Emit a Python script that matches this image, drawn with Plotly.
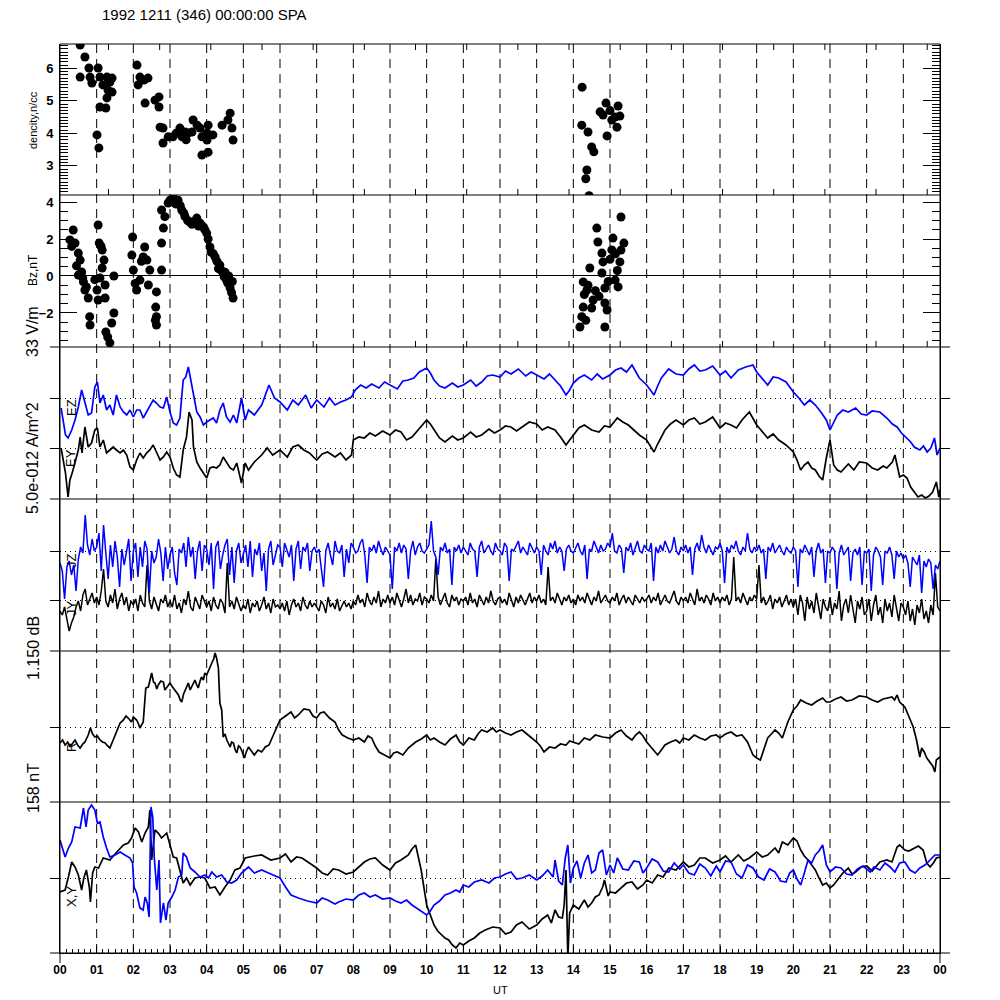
import numpy as np
import plotly.graph_objects as go

# ======================= DATA =======================
TITLE = "1992 1211 (346) 00:00:00 SPA"
hour_labels = ["00", "01", "02", "03", "04", "05", "06", "07", "08", "09", "10", "11",
               "12", "13", "14", "15", "16", "17", "18", "19", "20", "21", "22", "23", "00"]

# Panel 1: density (UT hour, n/cc)
density_pts = [
    (0.55, 6.72), (0.68, 6.35), (0.79, 6.01), (1.04, 6.01), (0.55, 5.73), (0.82, 5.73), (0.87, 5.55),
    (1.09, 5.73), (1.28, 5.73), (1.42, 5.70), (1.17, 5.49), (1.31, 5.33), (1.42, 5.27), (1.28, 5.09),
    (1.09, 4.81), (1.25, 4.78), (1.01, 3.95), (1.06, 3.55), (1.36, 5.58),
    (2.10, 6.10), (2.18, 5.73), (2.40, 5.70), (2.13, 5.49), (2.32, 4.93), (2.59, 5.02), (2.70, 5.12),
    (2.70, 4.81), (2.29, 5.64),
    (2.73, 4.19), (2.81, 4.16), (2.81, 3.70), (2.95, 3.89), (3.08, 3.89), (3.27, 4.16), (3.33, 3.89),
    (3.41, 4.04), (3.49, 4.01), (3.63, 4.41), (3.60, 4.04), (3.74, 4.25), (3.82, 4.16), (3.87, 3.89),
    (4.01, 4.01), (4.01, 3.79), (4.04, 4.25), (3.87, 3.33), (4.04, 3.42), (4.17, 3.95), (4.42, 4.25),
    (4.58, 4.41), (4.64, 4.62), (4.69, 4.16), (4.72, 3.79), (3.17, 4.00), (3.44, 3.80),
    (14.24, 5.42), (14.89, 4.93), (15.22, 4.84), (14.81, 4.56), (15.14, 4.50), (15.27, 4.53),
    (15.05, 4.41), (15.19, 4.19), (14.23, 4.25), (14.40, 4.04), (14.92, 3.92), (14.50, 3.58),
    (14.56, 3.43), (14.37, 2.87), (14.34, 2.60), (14.43, 2.08), (14.73, 4.66), (15.00, 4.70),
]

# Panel 2: Bz (UT hour, nT)
bz_pts = [
    (0.36, 2.49), (0.27, 1.95), (0.41, 1.78), (0.50, 1.24), (0.55, 0.86), (0.59, 0.22), (0.50, 0.05),
    (0.64, -0.32), (0.68, -0.76), (0.72, -0.59), (0.77, -1.19), (0.81, -2.20), (0.82, -2.65),
    (0.45, 0.55), (0.62, -0.10), (0.32, 1.60),
    (1.04, 2.76), (1.07, 1.78), (1.15, 1.40), (1.20, 0.86), (1.15, 0.43), (1.09, -0.11), (1.01, -0.76),
    (1.04, -1.30), (1.23, -1.19), (1.23, -0.49), (1.25, -3.03), (1.36, -3.62), (1.41, -2.54),
    (1.47, -2.00), (1.47, 0.00), (1.30, -3.30), (1.12, 1.60), (0.95, -0.20),
    (1.98, 2.11), (1.96, 1.13), (2.00, 0.32), (2.09, -0.76), (2.18, -0.22), (2.27, 1.03), (2.31, 1.57),
    (2.37, 0.86), (2.45, 0.32), (2.41, -0.49), (2.63, -0.86), (2.61, -1.68), (2.63, -2.20),
    (2.63, -2.65), (2.77, 1.78), (2.77, 0.32), (2.82, 2.59), (2.05, -0.40), (2.22, 0.80), (2.60, -2.40),
    (2.77, 3.57), (2.86, 3.21), (2.95, 3.95), (3.10, 4.20), (3.22, 4.10), (3.32, 3.57), (3.41, 3.21),
    (3.54, 2.92), (3.73, 3.13), (3.82, 2.86), (3.91, 2.65), (4.00, 2.32), (4.09, 1.57), (4.23, 1.03),
    (4.36, 0.59), (4.45, 0.16), (4.54, -0.22), (4.64, -0.65), (4.72, -1.19),
    (3.00, 4.10), (3.15, 3.90), (3.28, 3.80), (3.38, 3.40), (3.48, 3.00), (3.60, 2.80), (3.66, 2.95),
    (3.78, 2.70), (3.86, 2.75), (3.95, 2.50), (4.04, 2.00), (4.12, 1.30), (4.18, 1.20), (4.28, 0.80),
    (4.32, 0.40), (4.40, 0.30), (4.48, -0.05), (4.50, 0.20), (4.58, -0.40), (4.60, 0.00),
    (4.68, -0.90), (4.70, -0.30),
    (15.30, 3.19), (14.64, 2.59), (14.67, 1.84), (15.08, 2.05), (15.38, 1.78), (14.78, 1.24),
    (15.05, 1.41), (15.27, 0.76), (14.81, 0.76), (14.45, 0.43), (14.78, 0.16), (15.14, -0.22),
    (15.22, -0.59), (14.27, -0.32), (14.37, -0.76), (14.54, -1.30), (14.86, -0.65), (14.86, -1.46),
    (14.27, -1.68), (14.23, -2.20), (14.18, -2.76), (14.92, -1.84), (14.86, -2.76), (14.50, -1.73),
    (14.30, -1.00), (14.40, -0.50), (14.60, -0.80), (14.70, -1.10), (15.00, 0.90), (15.20, 0.30),
    (15.15, 1.20), (14.95, -0.30), (14.34, -2.40), (15.30, 1.40),
]

# Panel 3 (33 V/m scale): upper (blue) and lower (black) traces, height in panel units (0..152)
e_upper = [
    (0.03, 91), (0.08, 79), (0.15, 64), (0.22, 61), (0.32, 69), (0.41, 79), (0.50, 92), (0.59, 109),
    (0.68, 97), (0.77, 84), (0.86, 86), (0.95, 112), (1.02, 117), (1.09, 96), (1.18, 104), (1.27, 89),
    (1.36, 94), (1.45, 84), (1.54, 104), (1.64, 92), (1.73, 87), (1.82, 84), (1.91, 89), (2.00, 82),
    (2.09, 89), (2.18, 89), (2.27, 81), (2.36, 87), (2.45, 92), (2.54, 99), (2.63, 96), (2.73, 92),
    (2.82, 91), (2.91, 102), (3.00, 87), (3.09, 76), (3.18, 74), (3.27, 81), (3.36, 119), (3.43, 122),
    (3.50, 132), (3.55, 122), (3.64, 102), (3.73, 87), (3.82, 82), (3.91, 74), (4.00, 77), (4.09, 79),
    (4.18, 81), (4.27, 76), (4.36, 89), (4.45, 96), (4.54, 82), (4.64, 77), (4.73, 84), (4.82, 76),
    (4.95, 101), (5.05, 79), (5.14, 89), (5.30, 84), (5.50, 94), (5.70, 114), (5.85, 101), (6.00, 97),
    (6.20, 89), (6.35, 99), (6.50, 94), (6.70, 104), (6.85, 91), (7.00, 99), (7.20, 92), (7.35, 101),
    (7.50, 94), (7.65, 97), (7.80, 99), (7.95, 102), (8.05, 109), (8.20, 114), (8.35, 111), (8.50, 115),
    (8.70, 111), (8.85, 117), (9.00, 114), (9.20, 110), (9.35, 118), (9.50, 119), (9.65, 121),
    (9.80, 127), (10.00, 131), (10.10, 126), (10.20, 119), (10.35, 113), (10.50, 111), (10.70, 116),
    (10.85, 112), (11.00, 114), (11.20, 119), (11.35, 113), (11.50, 117), (11.65, 123), (11.80, 124),
    (12.00, 122), (12.15, 128), (12.30, 125), (12.50, 130), (12.70, 123), (12.85, 127), (13.00, 124),
    (13.20, 120), (13.35, 125), (13.50, 119), (13.65, 113), (13.80, 104), (13.90, 109), (14.00, 116),
    (14.15, 121), (14.30, 124), (14.50, 119), (14.65, 125), (14.80, 120), (15.00, 124), (15.15, 129),
    (15.30, 131), (15.45, 127), (15.60, 134), (15.70, 127), (15.80, 121), (16.00, 114), (16.10, 109),
    (16.20, 104), (16.30, 113), (16.40, 121), (16.60, 130), (16.80, 125), (17.00, 124), (17.15, 130),
    (17.30, 134), (17.45, 128), (17.60, 129), (17.80, 133), (18.00, 124), (18.15, 128), (18.30, 121),
    (18.50, 129), (18.70, 132), (18.90, 134), (19.00, 127), (19.15, 121), (19.30, 114), (19.45, 122),
    (19.60, 121), (19.80, 117), (20.00, 107), (20.15, 101), (20.30, 94), (20.45, 99), (20.60, 94),
    (20.75, 87), (20.90, 79), (21.00, 69), (21.10, 77), (21.20, 84), (21.35, 89), (21.50, 87),
    (21.70, 91), (21.85, 85), (22.00, 84), (22.15, 88), (22.36, 87), (22.55, 81), (22.70, 75),
    (22.83, 72), (22.95, 66), (23.10, 61), (23.20, 57), (23.30, 52), (23.45, 49), (23.55, 53),
    (23.65, 47), (23.75, 51), (23.85, 61), (23.92, 44), (24.00, 51),
]
e_lower = [
    (0.03, 51), (0.08, 42), (0.15, 26), (0.22, 2), (0.27, 19), (0.34, 27), (0.41, 36), (0.50, 49),
    (0.55, 62), (0.60, 46), (0.68, 72), (0.77, 52), (0.86, 56), (0.95, 69), (1.02, 71), (1.09, 52),
    (1.18, 59), (1.27, 46), (1.36, 49), (1.45, 52), (1.54, 49), (1.64, 46), (1.73, 49), (1.82, 44),
    (1.91, 32), (2.00, 29), (2.09, 39), (2.18, 46), (2.27, 41), (2.36, 46), (2.45, 49), (2.54, 54),
    (2.63, 47), (2.73, 39), (2.82, 42), (2.91, 47), (3.00, 42), (3.09, 31), (3.18, 24), (3.27, 22),
    (3.36, 49), (3.45, 62), (3.52, 87), (3.60, 79), (3.64, 52), (3.73, 37), (3.82, 31), (3.91, 26),
    (4.00, 21), (4.09, 31), (4.18, 32), (4.27, 31), (4.36, 34), (4.45, 42), (4.54, 37), (4.64, 31),
    (4.73, 29), (4.82, 36), (4.95, 16), (5.05, 36), (5.14, 29), (5.30, 37), (5.50, 44), (5.65, 51),
    (5.80, 44), (6.00, 49), (6.20, 42), (6.35, 52), (6.50, 54), (6.65, 49), (6.80, 46), (7.00, 39),
    (7.15, 45), (7.30, 47), (7.50, 42), (7.65, 46), (7.80, 39), (7.95, 44), (8.00, 59), (8.15, 62),
    (8.30, 61), (8.45, 66), (8.60, 63), (8.80, 68), (9.00, 64), (9.15, 69), (9.30, 67), (9.45, 59),
    (9.60, 62), (9.80, 71), (10.00, 79), (10.10, 75), (10.20, 69), (10.35, 61), (10.50, 57),
    (10.70, 63), (10.85, 59), (11.00, 61), (11.20, 67), (11.35, 62), (11.50, 64), (11.70, 70),
    (11.85, 66), (12.00, 69), (12.15, 73), (12.30, 72), (12.45, 68), (12.60, 72), (12.80, 77),
    (13.00, 75), (13.15, 69), (13.30, 72), (13.50, 69), (13.65, 62), (13.80, 54), (13.90, 59),
    (14.00, 64), (14.15, 71), (14.30, 74), (14.50, 69), (14.70, 67), (14.85, 73), (15.00, 72),
    (15.20, 81), (15.35, 77), (15.50, 74), (15.65, 69), (15.80, 64), (16.00, 59), (16.20, 47),
    (16.30, 55), (16.50, 69), (16.65, 75), (16.80, 79), (17.00, 74), (17.15, 79), (17.30, 81),
    (17.45, 75), (17.60, 77), (17.80, 82), (18.00, 71), (18.15, 76), (18.30, 74), (18.45, 71),
    (18.60, 79), (18.80, 87), (19.00, 74), (19.15, 67), (19.30, 61), (19.45, 65), (19.60, 59),
    (19.80, 54), (20.00, 47), (20.10, 39), (20.20, 29), (20.30, 34), (20.40, 37), (20.50, 31),
    (20.60, 29), (20.70, 23), (20.80, 19), (20.90, 41), (21.00, 59), (21.10, 34), (21.20, 29),
    (21.30, 27), (21.50, 35), (21.65, 29), (21.80, 37), (22.00, 36), (22.15, 31), (22.30, 29),
    (22.45, 33), (22.55, 31), (22.70, 37), (22.77, 44), (22.90, 22), (23.00, 24), (23.10, 21),
    (23.20, 12), (23.30, 7), (23.40, 2), (23.50, 4), (23.60, 1), (23.70, 3), (23.80, 7), (23.90, 17),
    (23.97, 2), (24.00, 9),
]

# Panel 4 (5.0e-012 A/m^2 scale): sampled every 3.75 minutes (16 per hour), 00 to 24 UT
P4_STEP_H = 0.0625
p4_upper = [
    88, 80, 52, 84, 90, 76, 86, 60, 92, 104, 98, 136, 106, 96, 112, 100,
    104, 118, 80, 126, 98, 72, 106, 84, 110, 94, 64, 102, 86, 98, 112, 70,
    100, 108, 74, 104, 84, 110, 102, 58, 100, 88, 94, 112, 98, 70, 104, 82,
    96, 104, 78, 66, 102, 98, 108, 84, 114, 94, 104, 72, 100, 110, 80, 106,
    102, 86, 108, 62, 104, 110, 82, 96, 106, 112, 76, 104, 68, 100, 108, 88,
    98, 106, 84, 110, 74, 102, 96, 108, 80, 98, 60, 102, 110, 86, 96, 106,
    104, 84, 108, 100, 94, 106, 70, 102, 110, 82, 104, 100, 108, 80, 100, 104,
    98, 102, 84, 64, 100, 108, 96, 86, 110, 100, 98, 106, 74, 102, 88, 108,
    104, 98, 100, 108, 112, 96, 68, 104, 100, 106, 98, 110, 102, 96, 104, 100,
    96, 62, 104, 100, 108, 98, 106, 102, 72, 100, 110, 96, 104, 108, 100, 98,
    102, 106, 130, 100, 94, 76, 104, 100, 108, 98, 102, 66, 104, 100, 106, 98,
    104, 100, 96, 108, 102, 100, 74, 104, 110, 98, 102, 106, 100, 96, 108, 102,
    100, 96, 108, 104, 70, 102, 100, 106, 110, 98, 104, 100, 96, 108, 102, 98,
    104, 100, 76, 106, 100, 96, 108, 102, 110, 98, 104, 100, 80, 102, 106, 100,
    98, 104, 108, 100, 96, 106, 72, 102, 100, 110, 104, 98, 106, 100, 102, 108,
    104, 118, 100, 98, 106, 102, 78, 104, 100, 108, 96, 104, 110, 100, 98, 106,
    102, 100, 108, 70, 104, 98, 106, 100, 110, 104, 98, 102, 114, 100, 96, 104,
    100, 106, 98, 104, 76, 102, 108, 100, 116, 104, 98, 106, 100, 96, 104, 102,
    108, 100, 68, 104, 98, 106, 102, 110, 100, 96, 104, 100, 118, 102, 98, 104,
    100, 106, 98, 102, 72, 104, 100, 108, 98, 102, 106, 100, 96, 104, 100, 98,
    104, 100, 64, 102, 98, 106, 100, 96, 104, 74, 100, 108, 98, 102, 68, 100,
    98, 104, 100, 62, 98, 106, 96, 100, 104, 70, 98, 102, 96, 104, 66, 100,
    98, 102, 60, 96, 104, 100, 94, 66, 100, 98, 104, 96, 72, 100, 94, 98,
    92, 96, 88, 64, 94, 90, 86, 96, 58, 90, 84, 92, 88, 62, 86, 82,
    90,
]
p4_lower = [
    40, 36, 44, 30, 20, 28, 34, 44, 50, 40, 56, 62, 46, 52, 58, 48,
    54, 46, 60, 82, 50, 44, 56, 48, 62, 42, 52, 58, 46, 54, 40, 50,
    46, 52, 40, 56, 48, 44, 86, 50, 42, 54, 46, 40, 52, 48, 56, 44,
    50, 44, 56, 42, 48, 38, 52, 46, 60, 44, 40, 54, 48, 42, 56, 50,
    44, 50, 40, 54, 46, 42, 52, 48, 38, 88, 44, 50, 42, 54, 46, 40,
    46, 42, 52, 38, 48, 44, 50, 40, 46, 54, 42, 48, 38, 52, 44, 46,
    42, 48, 40, 50, 36, 46, 52, 44, 48, 40, 54, 46, 42, 50, 44, 48,
    44, 40, 50, 46, 38, 54, 44, 48, 42, 52, 40, 46, 50, 44, 48, 42,
    50, 46, 56, 48, 52, 44, 58, 50, 46, 54, 48, 60, 44, 52, 48, 56,
    48, 54, 46, 58, 50, 44, 52, 62, 48, 56, 46, 52, 50, 58, 46, 54,
    52, 48, 56, 50, 92, 54, 46, 52, 58, 48, 44, 56, 50, 54, 46, 52,
    50, 54, 46, 58, 48, 52, 44, 56, 50, 46, 54, 48, 60, 50, 46, 52,
    54, 48, 52, 46, 58, 50, 44, 54, 48, 56, 50, 46, 52, 58, 48, 54,
    50, 56, 48, 52, 46, 84, 50, 54, 48, 58, 52, 46, 54, 50, 56, 48,
    52, 46, 56, 50, 54, 48, 58, 52, 46, 54, 50, 60, 48, 52, 56, 50,
    48, 54, 50, 58, 46, 52, 56, 48, 54, 50, 46, 56, 52, 48, 54, 50,
    52, 56, 48, 54, 50, 58, 46, 52, 56, 50, 48, 54, 60, 50, 46, 54,
    50, 54, 48, 58, 52, 46, 62, 50, 54, 48, 56, 52, 46, 58, 50, 54,
    48, 54, 50, 56, 46, 52, 94, 50, 54, 48, 58, 52, 46, 54, 50, 56,
    52, 86, 48, 54, 46, 50, 56, 42, 52, 48, 54, 44, 50, 56, 46, 52,
    44, 52, 36, 56, 48, 30, 54, 42, 50, 38, 58, 46, 32, 52, 44, 40,
    54, 36, 48, 42, 60, 30, 46, 52, 38, 56, 44, 28, 50, 42, 54, 36,
    40, 52, 30, 46, 56, 36, 44, 28, 52, 40, 48, 34, 56, 42, 30, 48,
    44, 36, 50, 30, 42, 26, 46, 38, 52, 32, 40, 28, 46, 36, 78, 44,
    40,
]

# Panel 5 (1.150 dB scale): R trace, height in panel units (0..151)
r_trace = [
    (0.00, 59), (0.07, 62), (0.14, 57), (0.21, 60), (0.27, 55), (0.34, 58), (0.41, 62), (0.48, 57),
    (0.55, 54), (0.62, 58), (0.68, 60), (0.77, 67), (0.83, 74), (0.89, 68), (0.95, 65), (1.02, 66),
    (1.09, 62), (1.16, 60), (1.23, 59), (1.30, 56), (1.36, 54), (1.45, 62), (1.54, 70), (1.60, 75),
    (1.64, 79), (1.73, 82), (1.80, 86), (1.86, 84), (1.95, 80), (2.00, 85), (2.05, 83), (2.09, 82),
    (2.14, 78), (2.18, 74), (2.27, 80), (2.34, 114), (2.41, 115), (2.46, 122), (2.50, 129),
    (2.55, 120), (2.59, 119), (2.64, 113), (2.68, 117), (2.75, 121), (2.82, 120), (2.86, 112),
    (2.91, 115), (2.96, 118), (3.00, 119), (3.05, 116), (3.09, 114), (3.16, 110), (3.23, 107),
    (3.28, 102), (3.32, 100), (3.37, 108), (3.41, 112), (3.46, 116), (3.50, 119), (3.55, 112),
    (3.59, 115), (3.64, 118), (3.68, 122), (3.73, 117), (3.77, 114), (3.82, 121), (3.86, 125),
    (3.91, 122), (3.95, 129), (4.00, 127), (4.05, 132), (4.10, 135), (4.14, 139), (4.19, 143),
    (4.23, 149), (4.27, 144), (4.32, 134), (4.36, 99), (4.41, 92), (4.45, 65), (4.50, 68), (4.55, 62),
    (4.60, 58), (4.64, 55), (4.68, 60), (4.73, 59), (4.78, 52), (4.82, 49), (4.87, 56), (4.91, 55),
    (4.97, 50), (5.03, 44), (5.08, 50), (5.14, 55), (5.30, 47), (5.40, 52), (5.50, 50), (5.60, 55),
    (5.70, 57), (5.85, 70), (6.00, 82), (6.15, 86), (6.30, 90), (6.40, 84), (6.50, 87), (6.65, 93),
    (6.80, 92), (6.90, 86), (7.00, 84), (7.10, 89), (7.20, 90), (7.35, 84), (7.50, 80), (7.60, 72),
    (7.70, 67), (7.85, 64), (8.00, 62), (8.15, 64), (8.30, 60), (8.40, 66), (8.50, 64), (8.60, 56),
    (8.70, 50), (8.85, 47), (9.00, 44), (9.10, 49), (9.20, 50), (9.35, 47), (9.50, 54), (9.60, 57),
    (9.70, 60), (9.85, 63), (10.00, 67), (10.10, 62), (10.20, 64), (10.35, 60), (10.50, 57),
    (10.65, 63), (10.80, 67), (10.90, 60), (11.00, 57), (11.15, 64), (11.30, 62), (11.40, 68),
    (11.50, 72), (11.65, 70), (11.80, 74), (11.90, 70), (12.00, 72), (12.15, 69), (12.30, 67),
    (12.45, 70), (12.60, 72), (12.80, 66), (13.00, 60), (13.10, 56), (13.20, 50), (13.35, 55),
    (13.50, 54), (13.65, 58), (13.80, 57), (13.90, 61), (14.00, 60), (14.15, 58), (14.30, 64),
    (14.45, 62), (14.60, 67), (14.80, 65), (15.00, 64), (15.15, 69), (15.30, 72), (15.45, 66),
    (15.60, 62), (15.70, 67), (15.80, 70), (15.90, 66), (16.00, 60), (16.15, 54), (16.30, 47),
    (16.40, 52), (16.50, 57), (16.65, 60), (16.80, 62), (16.90, 59), (17.00, 64), (17.15, 62),
    (17.30, 67), (17.45, 64), (17.60, 62), (17.75, 66), (17.90, 67), (18.00, 64), (18.15, 68),
    (18.30, 70), (18.45, 66), (18.60, 67), (18.75, 60), (18.90, 47), (19.00, 44), (19.10, 42),
    (19.20, 52), (19.30, 64), (19.40, 68), (19.50, 72), (19.60, 69), (19.70, 64), (19.85, 80),
    (20.00, 92), (20.10, 96), (20.20, 102), (20.35, 99), (20.50, 97), (20.65, 101), (20.80, 104),
    (20.90, 100), (21.00, 100), (21.15, 103), (21.30, 105), (21.45, 101), (21.60, 102), (21.80, 106),
    (22.00, 105), (22.15, 102), (22.30, 100), (22.45, 103), (22.55, 104), (22.69, 105), (22.76, 102),
    (22.83, 107), (22.90, 100), (23.04, 95), (23.10, 90), (23.18, 82), (23.27, 75), (23.36, 62),
    (23.45, 45), (23.50, 54), (23.57, 50), (23.64, 44), (23.73, 39), (23.80, 36), (23.86, 30),
    (23.90, 42), (24.00, 45),
]

# Panel 6 (158 nT scale): X (black) and Y (blue), height in panel units (0..151)
mag_x = [
    (0.00, 61), (0.14, 63), (0.23, 76), (0.32, 91), (0.41, 86), (0.50, 78), (0.59, 63), (0.65, 75),
    (0.72, 83), (0.80, 66), (0.83, 51), (0.89, 80), (0.95, 86), (1.05, 85), (1.18, 95), (1.36, 93),
    (1.55, 101), (1.73, 108), (1.86, 110), (1.95, 115), (2.05, 125), (2.14, 121), (2.23, 111),
    (2.32, 120), (2.41, 126), (2.45, 143), (2.50, 93), (2.59, 123), (2.68, 120), (2.77, 115),
    (2.91, 120), (3.00, 108), (3.09, 96), (3.18, 95), (3.27, 83), (3.36, 70), (3.45, 75), (3.55, 68),
    (3.68, 75), (3.82, 76), (3.95, 75), (4.09, 65), (4.23, 66), (4.36, 58), (4.50, 66), (4.64, 73),
    (4.77, 83), (4.91, 85), (5.05, 95), (5.14, 96), (5.30, 97), (5.50, 98), (5.75, 93), (6.00, 95),
    (6.15, 99), (6.30, 91), (6.45, 96), (6.60, 95), (6.80, 90), (7.00, 85), (7.15, 80), (7.30, 78),
    (7.45, 84), (7.60, 83), (7.80, 79), (8.00, 81), (8.15, 86), (8.30, 91), (8.45, 94), (8.60, 95),
    (8.80, 88), (9.00, 83), (9.15, 90), (9.30, 93), (9.50, 98), (9.60, 104), (9.70, 108), (9.85, 83),
    (10.00, 48), (10.10, 38), (10.20, 28), (10.30, 22), (10.40, 18), (10.50, 15), (10.60, 13),
    (10.70, 8), (10.80, 5), (10.90, 10), (11.00, 8), (11.15, 12), (11.30, 15), (11.45, 20),
    (11.60, 23), (11.80, 26), (12.00, 25), (12.15, 19), (12.30, 21), (12.45, 28), (12.60, 31),
    (12.80, 24), (13.00, 28), (13.15, 34), (13.30, 38), (13.40, 30), (13.50, 43), (13.60, 36),
    (13.70, 35), (13.75, 48), (13.80, 83), (13.85, -5), (13.90, 40), (14.00, 48), (14.15, 44),
    (14.30, 53), (14.40, 46), (14.50, 50), (14.60, 56), (14.70, 58), (14.80, 66), (14.85, 73),
    (14.95, 57), (15.00, 61), (15.15, 60), (15.30, 65), (15.45, 70), (15.60, 71), (15.75, 64),
    (15.90, 68), (16.00, 73), (16.15, 70), (16.30, 78), (16.45, 76), (16.60, 85), (16.80, 83),
    (17.00, 91), (17.15, 86), (17.30, 88), (17.45, 95), (17.60, 95), (17.80, 90), (18.00, 93),
    (18.15, 97), (18.30, 91), (18.50, 98), (18.65, 92), (18.80, 95), (19.00, 101), (19.15, 96),
    (19.30, 98), (19.50, 105), (19.60, 100), (19.70, 111), (19.85, 108), (20.00, 115), (20.10, 112),
    (20.20, 103), (20.30, 97), (20.40, 93), (20.50, 88), (20.60, 83), (20.70, 75), (20.80, 68),
    (20.90, 70), (21.00, 65), (21.10, 68), (21.20, 73), (21.35, 80), (21.50, 85), (21.60, 79),
    (21.70, 81), (21.85, 86), (22.00, 87), (22.15, 82), (22.36, 91), (22.55, 93), (22.69, 91),
    (22.83, 106), (22.90, 108), (23.04, 103), (23.15, 102), (23.27, 104), (23.41, 107), (23.54, 103),
    (23.64, 90), (23.73, 86), (23.82, 90), (23.90, 95), (24.00, 96),
]
mag_y = [
    (0.00, 113), (0.14, 96), (0.23, 105), (0.32, 111), (0.41, 126), (0.55, 125), (0.64, 145),
    (0.71, 126), (0.77, 143), (0.86, 148), (0.95, 143), (1.02, 130), (1.09, 131), (1.18, 116),
    (1.27, 105), (1.36, 96), (1.50, 98), (1.64, 101), (1.77, 98), (1.91, 95), (1.98, 90), (2.02, 66),
    (2.09, 60), (2.18, 45), (2.27, 43), (2.32, 56), (2.38, 50), (2.43, 36), (2.48, 146), (2.53, 136),
    (2.57, 96), (2.64, 63), (2.70, 93), (2.74, 30), (2.82, 50), (2.89, 33), (2.95, 50), (3.05, 56),
    (3.14, 63), (3.23, 76), (3.32, 78), (3.36, 100), (3.45, 96), (3.55, 85), (3.68, 81), (3.82, 76),
    (3.95, 78), (4.05, 75), (4.14, 81), (4.27, 76), (4.41, 78), (4.55, 71), (4.68, 70), (4.82, 73),
    (4.95, 80), (5.14, 86), (5.30, 80), (5.50, 83), (5.75, 79), (6.00, 75), (6.15, 66), (6.30, 58),
    (6.50, 55), (6.75, 52), (7.00, 50), (7.15, 55), (7.30, 53), (7.50, 49), (7.60, 51), (7.80, 54),
    (8.00, 53), (8.15, 58), (8.30, 60), (8.45, 56), (8.60, 58), (8.80, 54), (9.00, 55), (9.15, 52),
    (9.30, 50), (9.45, 53), (9.60, 48), (9.80, 43), (10.00, 38), (10.10, 42), (10.20, 48),
    (10.35, 52), (10.50, 58), (10.65, 60), (10.80, 63), (10.90, 61), (11.00, 68), (11.15, 66),
    (11.30, 71), (11.50, 73), (11.70, 70), (11.85, 75), (12.00, 76), (12.15, 79), (12.30, 81),
    (12.45, 74), (12.60, 75), (12.80, 78), (13.00, 73), (13.15, 77), (13.30, 83), (13.45, 76),
    (13.50, 93), (13.60, 72), (13.70, 68), (13.78, 95), (13.85, 108), (13.92, 70), (14.00, 85),
    (14.10, 92), (14.20, 75), (14.30, 90), (14.40, 98), (14.50, 80), (14.60, 83), (14.70, 100),
    (14.80, 103), (14.90, 78), (15.00, 88), (15.10, 80), (15.20, 95), (15.35, 84), (15.50, 83),
    (15.65, 92), (15.80, 91), (15.90, 80), (16.00, 85), (16.15, 94), (16.30, 91), (16.45, 82),
    (16.60, 81), (16.75, 90), (16.90, 84), (17.00, 88), (17.15, 80), (17.30, 78), (17.45, 89),
    (17.60, 85), (17.75, 77), (17.90, 87), (18.00, 81), (18.15, 92), (18.30, 91), (18.45, 79),
    (18.60, 75), (18.75, 88), (18.90, 85), (19.05, 76), (19.20, 73), (19.35, 84), (19.50, 81),
    (19.65, 72), (19.80, 71), (19.90, 80), (20.00, 83), (20.10, 74), (20.20, 68), (20.30, 80),
    (20.40, 93), (20.50, 90), (20.60, 98), (20.70, 102), (20.80, 108), (20.90, 88), (21.00, 81),
    (21.15, 86), (21.30, 85), (21.45, 79), (21.60, 78), (21.75, 84), (21.90, 87), (22.10, 81),
    (22.20, 86), (22.36, 83), (22.50, 90), (22.64, 86), (22.77, 81), (22.90, 90), (23.04, 91),
    (23.18, 83), (23.32, 80), (23.45, 85), (23.59, 88), (23.73, 93), (23.86, 98), (24.00, 98),
]

# ======================= FIGURE =======================
FONT = "Liberation Sans, Arial, Helvetica, sans-serif"
BLUE = "#0000FF"
BLACK = "#000000"
LW = 1.7

# layout geometry (pixels in a 1000x1000 page)
PX_TOP, PX_BOT, PX_L, PX_R = 44, 953, 60, 940
bounds_px = [44, 195, 347, 499, 651, 802, 953]
H = PX_BOT - PX_TOP
W = PX_R - PX_L


def py(p):
    return (PX_BOT - p) / H


def px(p):
    return (p - PX_L) / W


def xs(pts):
    return [p[0] for p in pts]


def ys(pts):
    return [p[1] for p in pts]


fig = go.Figure()

fig.add_trace(go.Scatter(x=xs(density_pts), y=ys(density_pts), mode="markers",
                         marker=dict(color=BLACK, size=9), xaxis="x", yaxis="y"))
fig.add_trace(go.Scatter(x=xs(bz_pts), y=ys(bz_pts), mode="markers",
                         marker=dict(color=BLACK, size=9), xaxis="x", yaxis="y2"))
fig.add_trace(go.Scatter(x=xs(e_lower), y=ys(e_lower), mode="lines",
                         line=dict(color=BLACK, width=LW), xaxis="x", yaxis="y3"))
fig.add_trace(go.Scatter(x=xs(e_upper), y=ys(e_upper), mode="lines",
                         line=dict(color=BLUE, width=LW), xaxis="x", yaxis="y3"))
t4 = np.arange(len(p4_upper)) * P4_STEP_H
fig.add_trace(go.Scatter(x=t4, y=p4_lower, mode="lines",
                         line=dict(color=BLACK, width=1.5), xaxis="x", yaxis="y4"))
fig.add_trace(go.Scatter(x=t4, y=p4_upper, mode="lines",
                         line=dict(color=BLUE, width=1.5), xaxis="x", yaxis="y4"))
fig.add_trace(go.Scatter(x=xs(r_trace), y=ys(r_trace), mode="lines",
                         line=dict(color=BLACK, width=LW), xaxis="x", yaxis="y5"))
fig.add_trace(go.Scatter(x=xs(mag_x), y=ys(mag_x), mode="lines",
                         line=dict(color=BLACK, width=LW), xaxis="x", yaxis="y6"))
fig.add_trace(go.Scatter(x=xs(mag_y), y=ys(mag_y), mode="lines",
                         line=dict(color=BLUE, width=LW), xaxis="x", yaxis="y6"))

domains = [[py(bounds_px[i + 1]), py(bounds_px[i])] for i in range(6)]

tickfont = dict(family=FONT, size=12, color=BLACK, weight="bold")
ytickfont = dict(family=FONT, size=13, color=BLACK, weight="bold")

layout = dict(
    width=1000, height=1000,
    margin=dict(l=PX_L, r=1000 - PX_R, t=PX_TOP, b=1000 - PX_BOT),
    paper_bgcolor="white", plot_bgcolor="white",
    showlegend=False,
    xaxis=dict(domain=[0, 1], anchor="y6", range=[0, 24], tickmode="linear", tick0=0, dtick=1,
               labelalias={str(i): hour_labels[i] for i in range(25)},
               ticks="inside", ticklen=7, tickwidth=1, tickcolor=BLACK,
               minor=dict(dtick=1 / 6, tick0=0, ticks="inside", ticklen=4, tickcolor=BLACK, tickwidth=1),
               showline=True, linecolor=BLACK, linewidth=1, showgrid=False, zeroline=False,
               tickfont=tickfont, ticklabelstandoff=6),
    yaxis=dict(domain=domains[0], anchor="x", range=[2.1, 6.75], tickmode="linear", tick0=0, dtick=1,
               ticks="inside", ticklen=17, tickcolor=BLACK, tickwidth=1,
               minor=dict(dtick=0.1, tick0=0, ticks="inside", ticklen=8, tickcolor=BLACK, tickwidth=1),
               showline=True, linecolor=BLACK, mirror="ticks", showgrid=False, zeroline=False,
               tickfont=ytickfont, ticklabelstandoff=3),
    yaxis2=dict(domain=domains[1], anchor="x", range=[-3.84, 4.38], tickmode="linear", tick0=0, dtick=2,
                ticks="inside", ticklen=17, tickcolor=BLACK, tickwidth=1,
                minor=dict(dtick=0.5, tick0=0, ticks="inside", ticklen=8, tickcolor=BLACK, tickwidth=1),
                showline=True, linecolor=BLACK, mirror="ticks", showgrid=False,
                zeroline=True, zerolinecolor=BLACK, zerolinewidth=1,
                tickfont=ytickfont, ticklabelstandoff=3),
)

panel_div = {3: ([0, 152], [51, 101]), 4: ([0, 152], [51, 100]),
             5: ([0, 151], [75]), 6: ([0, 151], [75])}
for k, (rng, divs) in panel_div.items():
    layout[f"yaxis{k}"] = dict(domain=domains[k - 1], anchor="x", range=rng,
                               tickmode="array", tickvals=divs, showticklabels=False,
                               ticks="outside", ticklen=9, tickcolor=BLACK, tickwidth=1,
                               showline=True, linecolor=BLACK, mirror="ticks",
                               showgrid=True, gridcolor=BLACK, gridwidth=1, griddash="1px,4px",
                               zeroline=False)

fig.update_layout(**layout)

shapes = []
# dashed hour lines
for h in range(1, 24):
    shapes.append(dict(type="line", xref="x", yref="paper", x0=h, x1=h, y0=0, y1=1,
                       line=dict(color=BLACK, width=1, dash="9px,6px"), layer="below"))
# panel boundaries
for b in bounds_px:
    if b <= 195:
        x0, x1 = 0, 1
    else:
        x0, x1 = px(50), px(950)
    shapes.append(dict(type="line", xref="paper", yref="paper", x0=x0, x1=x1, y0=py(b), y1=py(b),
                       line=dict(color=BLACK, width=1)))
# left / right frame lines
for xx in (0, 1):
    shapes.append(dict(type="line", xref="paper", yref="paper", x0=xx, x1=xx, y0=py(963), y1=1,
                       line=dict(color=BLACK, width=1)))
# small ticks along panel 1/2 edges
edge_tick_t = [(108.5 + 51.17 * k - PX_L) / (W / 24) for k in range(17)]
for t in edge_tick_t:
    for base, d in ((195, -6), (347, -6), (44, 6)):
        shapes.append(dict(type="line", xref="x", yref="paper", x0=t, x1=t,
                           y0=py(base), y1=py(base + d), line=dict(color=BLACK, width=1)))
fig.update_layout(shapes=shapes)

ann = []
ann.append(dict(text=TITLE, xref="paper", yref="paper", x=px(100), y=py(14), xanchor="left",
                yanchor="middle", showarrow=False, font=dict(family=FONT, size=15, color=BLACK)))
side_labels = [("dencity,n/cc", 120, 11), ("Bz,nT", 270, 12), ("33 V/m", 332, 16),
               ("5.0e-012 A/m^2", 458, 16), ("1.150 dB", 648, 16), ("158 nT", 788, 16)]
for txt, ypx, fs in side_labels:
    ann.append(dict(text=txt, xref="paper", yref="paper", x=px(33), y=py(ypx), textangle=-90,
                    xanchor="center", yanchor="middle", showarrow=False,
                    font=dict(family=FONT, size=fs, color=BLACK)))
inner_labels = [("EZ", 408), ("EY", 458), ("JZ", 561), ("JY", 608), ("R", 748), ("X,Y", 897)]
for txt, ypx in inner_labels:
    ann.append(dict(text=txt, xref="paper", yref="paper", x=px(71), y=py(ypx), textangle=-90,
                    xanchor="center", yanchor="middle", showarrow=False,
                    font=dict(family=FONT, size=13, color=BLACK)))
ann.append(dict(text="UT", xref="paper", yref="paper", x=0.5, y=py(990), xanchor="center",
                yanchor="middle", showarrow=False, font=dict(family=FONT, size=11, color=BLACK)))
fig.update_layout(annotations=ann)

fig.write_html("out.html", config={"displayModeBar": False},
               post_script="document.body.style.margin='0px';")
